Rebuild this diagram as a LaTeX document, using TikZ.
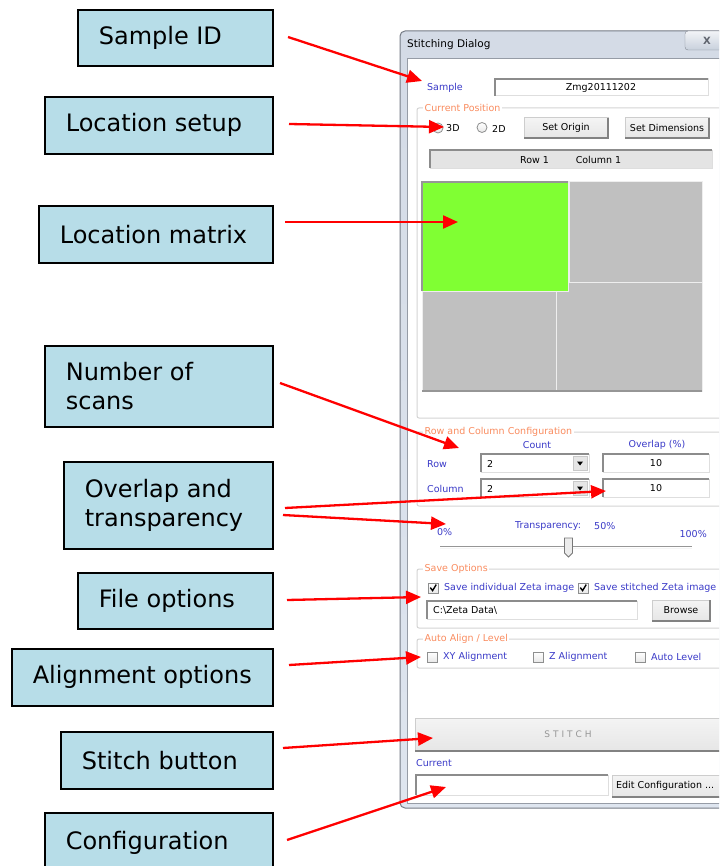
\documentclass[tikz,border=0pt]{standalone}
\usepackage{fontspec}
\setmainfont{DejaVu Sans}
\usetikzlibrary{arrows.meta}

\definecolor{lblue}{HTML}{B7DDE8}
\definecolor{dlgblue}{RGB}{58,58,200}
\definecolor{grporange}{RGB}{250,140,95}
\definecolor{cellgray}{RGB}{192,192,192}
\definecolor{cellgreen}{RGB}{128,255,51}
\definecolor{celledge}{RGB}{238,238,238}
\definecolor{matedge}{RGB}{150,150,150}
\definecolor{framegray}{RGB}{118,124,134}
\definecolor{frametop}{RGB}{212,219,230}
\definecolor{framebot}{RGB}{222,229,239}
\definecolor{clientedge}{RGB}{150,156,166}
\definecolor{closeedge}{RGB}{130,136,146}
\definecolor{closetop}{RGB}{242,244,247}
\definecolor{closebot}{RGB}{200,208,220}
\definecolor{closemark}{RGB}{95,100,110}
\definecolor{grpline}{RGB}{212,212,212}
\definecolor{edgedark}{RGB}{140,140,140}
\definecolor{edgelight}{RGB}{222,222,222}
\definecolor{chkedge}{RGB}{142,143,143}
\definecolor{chkbot}{RGB}{232,232,232}
\definecolor{btnedge}{RGB}{205,205,205}
\definecolor{btntop}{RGB}{244,244,244}
\definecolor{btnbot}{RGB}{230,230,230}
\definecolor{btnshadow}{RGB}{130,130,130}
\definecolor{barfill}{RGB}{228,228,228}
\definecolor{dropfill}{RGB}{230,230,230}
\definecolor{dropedge}{RGB}{200,200,200}
\definecolor{tracklight}{RGB}{245,245,245}
\definecolor{thumbedge}{RGB}{120,120,120}
\definecolor{thumbfill}{RGB}{236,236,236}
\definecolor{stitchtext}{RGB}{150,150,150}

\tikzset{
  callout/.style={draw=black, line width=1.6pt, fill=lblue, anchor=north west,
    inner xsep=20pt, inner ysep=0pt, align=flush left,
    font=\fontsize{24}{29}\selectfont},
  pointer/.style={draw=red, line width=2.3pt, -{Triangle[length=15pt,width=13pt]}},
  dlg/.style={font=\fontsize{9.5}{11}\selectfont, inner sep=0pt},
  dlgl/.style={dlg, anchor=west},
  grp/.style={draw=grpline, line width=1pt, rounded corners=2pt},
  grplabel/.style={dlgl, text=grporange, fill=white, inner xsep=1.5pt, inner ysep=1pt},
  chk/.style={draw=chkedge, line width=0.8pt, top color=white, bottom color=chkbot},
  cell/.style={fill=cellgray, draw=celledge, line width=1pt},
  dropbtn/.style={fill=dropfill, draw=dropedge},
}

% sunken edit field: light frame, dark top and left edges
\newcommand{\sunkbox}[4]{%
  \draw[draw=edgelight, fill=white, line width=1pt] (#1,#2) rectangle (#3,#4);
  \draw[draw=edgedark, line width=1.2pt] (#1,#4) -- (#1,#2) -- (#3,#2);}
% raised push button: light face, dark bottom and right edges
\newcommand{\raisedbtn}[4]{%
  \draw[draw=btnedge, top color=btntop, bottom color=btnbot, line width=1pt] (#1,#2) rectangle (#3,#4);
  \draw[draw=btnshadow, line width=1.3pt] (#1,#4) -- (#3,#4) -- (#3,#2);}

\begin{document}
\begin{tikzpicture}[x=1pt, y=-1pt]
\clip (0,0) rectangle (719,866);
\fill[white] (0,0) rectangle (719,866);

% ---------- dialog window frame ----------
\draw[draw=framegray, line width=1pt, rounded corners=5pt, top color=frametop, bottom color=framebot]
  (400,31) rectangle (735,808);
\fill[white] (407,58) rectangle (735,803);
\draw[draw=clientedge, line width=0.8pt] (735,58) -- (407,58) -- (407,803) -- (735,803);
\node[font=\fontsize{10.5}{12}\selectfont, anchor=west, inner sep=0pt] (title) at (407,45) {Stitching Dialog};
\draw[draw=closeedge, rounded corners=3pt, top color=closetop, bottom color=closebot]
  (685,31) rectangle (735,50);
\node[font=\bfseries\fontsize{10}{12}\selectfont, text=closemark, inner sep=0pt] (closex) at (707,40.5) {X};

% ---------- sample ----------
\node[dlgl, text=dlgblue] (lsample) at (427,88) {Sample};
\sunkbox{495}{79}{708}{96}
\node[dlg] (vsample) at (601,87.5) {Zmg20111202};

% ---------- current position ----------
\draw[grp] (417,108) rectangle (730,418);
\node[grplabel] (gpos) at (423,108) {Current Position};
\draw[chk] (438,128) circle (5pt);
\node[dlgl] (r3d) at (446,128.5) {3D};
\draw[chk] (482,127.5) circle (5pt);
\node[dlgl] (r2d) at (492,128.5) {2D};
\raisedbtn{524}{118}{608}{138}
\node[dlg] (bsetorigin) at (566,128) {Set Origin};
\raisedbtn{625}{118}{709}{138}
\node[dlg] (bsetdim) at (667,128) {Set Dimensions};
\draw[draw=edgelight, fill=barfill] (430,150) rectangle (712,168);
\draw[draw=edgedark, line width=1.2pt] (430,168) -- (430,150) -- (712,150);
\node[dlg] (rowpos) at (534.5,160) {Row 1};
\node[dlg] (colpos) at (598.5,160) {Column 1};

% location matrix
\draw[cell] (569,182) rectangle (702,282);
\draw[cell] (556,282) rectangle (702,391);
\draw[cell] (422,291) rectangle (556,391);
\draw[cell, fill=cellgreen] (422,182) rectangle (568,291);
\draw[draw=matedge, line width=1.3pt] (422,291) -- (422,182) -- (568,182);
\draw[draw=matedge, line width=1.3pt] (422,391) -- (702,391);

% ---------- row and column configuration ----------
\draw[grp] (417,432) rectangle (730,506);
\node[grplabel] (grc) at (423,432) {Row and Column Configuration};
\node[dlg, text=dlgblue] (hcount) at (537,445) {Count};
\node[dlg, text=dlgblue] (hoverlap) at (657,445) {Overlap (\%)};
\node[dlgl, text=dlgblue] (lrow) at (427,464) {Row};
\node[dlgl, text=dlgblue] (lcol) at (427,489) {Column};
\sunkbox{481}{454}{589}{472}
\node[dlgl] (vrow) at (487,463.5) {2};
\draw[dropbtn] (573,456) rectangle (587,470);
\fill[black] (577,461.5) -- (583,461.5) -- (580,465.5) -- cycle;
\sunkbox{481}{479}{589}{497}
\node[dlgl] (vcol) at (487,488.5) {2};
\draw[dropbtn] (573,481) rectangle (587,495);
\fill[black] (577,486.5) -- (583,486.5) -- (580,490.5) -- cycle;
\sunkbox{603}{454}{709}{472}
\node[dlg] (vovr) at (656,463.5) {10};
\sunkbox{603}{479}{709}{497}
\node[dlg] (vovc) at (656,488.5) {10};

% transparency slider
\node[dlgl, text=dlgblue] (t0) at (437,532) {0\%};
\node[dlgl, text=dlgblue] (ttr) at (515,526) {Transparency:};
\node[dlgl, text=dlgblue] (t50) at (594,526) {50\%};
\node[dlg, anchor=east, text=dlgblue] (t100) at (707,534) {100\%};
\draw[draw=matedge, line width=1.2pt] (440,546.5) -- (692,546.5);
\draw[draw=tracklight, line width=0.8pt] (440,548) -- (692,548);
\draw[draw=thumbedge, fill=thumbfill, line width=0.8pt]
  (564.5,538) -- (572.5,538) -- (572.5,553) -- (568.5,557) -- (564.5,553) -- cycle;

% ---------- save options ----------
\draw[grp] (417,569) rectangle (730,628);
\node[grplabel] (gsave) at (423,569) {Save Options};
\draw[chk] (428,583) rectangle (438,593);
\draw[line width=1.4pt] (430.3,587.6) -- (432.6,590.6) -- (436.2,584.6);
\node[dlgl, text=dlgblue] (csave1) at (444,588) {Save individual Zeta image};
\draw[chk] (578,583) rectangle (588,593);
\draw[line width=1.4pt] (580.3,587.6) -- (582.6,590.6) -- (586.2,584.6);
\node[dlgl, text=dlgblue] (csave2) at (594,588) {Save stitched Zeta image};
\sunkbox{427}{601}{637}{619}
\node[dlgl] (vpath) at (433,610) {C:\textbackslash Zeta Data\textbackslash};
\raisedbtn{652}{600}{710}{621}
\node[dlg] (bbrowse) at (681,610.5) {Browse};

% ---------- auto align / level ----------
\draw[grp] (417,639) rectangle (730,668);
\node[grplabel] (galign) at (423,639) {Auto Align / Level};
\draw[chk] (427,652) rectangle (437,662);
\node[dlgl, text=dlgblue] (cxy) at (443,657) {XY Alignment};
\draw[chk] (533,652) rectangle (543,662);
\node[dlgl, text=dlgblue] (cz) at (549,657) {Z Alignment};
\draw[chk] (635,652) rectangle (645,662);
\node[dlgl, text=dlgblue] (clev) at (651,657) {Auto Level};

% ---------- stitch and configuration ----------
\raisedbtn{415}{718}{735}{751}
\node[dlg, font=\fontsize{9}{11}\selectfont, text=stitchtext] (bstitch) at (568,734) {S\,\,T\,\,I\,\,T\,\,C\,\,H};
\node[dlgl, text=dlgblue] (lcurrent) at (416,763) {Current};
\sunkbox{416}{775}{608}{795}
\raisedbtn{612}{775}{735}{797}
\node[dlgl] (bedit) at (616,786) {Edit Configuration ...};

% ---------- callout boxes ----------
\node[callout, minimum width=195pt, minimum height=56pt, text width=153pt] (sid) at (77,9) {Sample ID};
\node[callout, minimum width=228pt, minimum height=57pt, text width=186pt] (lsetup) at (44,96) {Location setup};
\node[callout, minimum width=234pt, minimum height=57pt, text width=192pt] (lmatrix) at (38,205) {Location matrix};
\node[callout, minimum width=228pt, minimum height=81pt, text width=186pt] (nscans) at (44,345) {Number of\\scans};
\node[callout, minimum width=209pt, minimum height=87pt, text width=167pt] (ovtr) at (63,461) {Overlap and\\transparency};
\node[callout, minimum width=195pt, minimum height=56pt, text width=153pt] (fopt) at (77,572) {File options};
\node[callout, minimum width=261pt, minimum height=57pt, text width=219pt] (aopt) at (11,648) {\mbox{Alignment options}};
\node[callout, minimum width=212pt, minimum height=57pt, text width=170pt] (sbtn) at (60,731) {Stitch button};
\node[callout, minimum width=228pt, minimum height=60pt, text width=186pt] (conf) at (44,812) {Configuration};

% ---------- pointer ends ----------
\coordinate (s1) at (288,37);   \coordinate (t1) at (422,81);
\coordinate (s2) at (289,124);  \coordinate (t2) at (444,127);
\coordinate (s3) at (285,222);  \coordinate (t3) at (458,222);
\coordinate (s4) at (280,383);  \coordinate (t4) at (459,448);
\coordinate (s5) at (285,508);  \coordinate (t5) at (606,491);
\coordinate (s6) at (283,515);  \coordinate (t6) at (446,524);
\coordinate (s7) at (287,600);  \coordinate (t7) at (421,597);
\coordinate (s8) at (289,665);  \coordinate (t8) at (421,657);
\coordinate (s9) at (283,748);  \coordinate (t9) at (433,738);
\coordinate (s10) at (287,840); \coordinate (t10) at (446,787);

\foreach \k in {1,...,10} \draw[pointer] (s\k) -- (t\k);
\end{tikzpicture}
\end{document}
